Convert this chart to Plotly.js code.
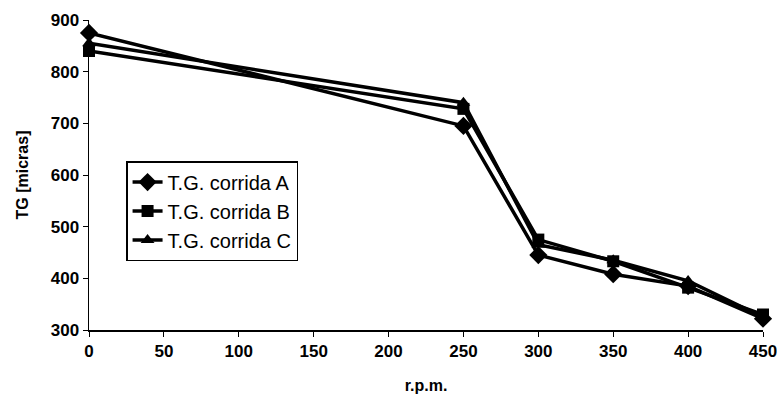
<!DOCTYPE html>
<html><head><meta charset="utf-8">
<script src="https://cdn.plot.ly/plotly-3.0.1.min.js"></script>
<style>html,body{margin:0;padding:0;background:#fff}</style>
</head><body><div id="chart" style="width:777px;height:418px"></div>
<script>
const rpm = [0, 250, 300, 350, 400, 450];
const corridaA = [875, 695, 445, 408, 385, 322];
const corridaB = [840, 728, 475, 433, 382, 330];
const corridaC = [855, 740, 465, 435, 395, 325];
const seriesNames = ['T.G. corrida A', 'T.G. corrida B', 'T.G. corrida C'];
const xTicks = [0, 50, 100, 150, 200, 250, 300, 350, 400, 450];
const yTicks = [300, 400, 500, 600, 700, 800, 900];

const symbols = ['diamond', 'square', 'triangle-up'];
const data = [corridaA, corridaB, corridaC].map((ys, i) => ({
  x: rpm, y: ys, name: seriesNames[i], type: 'scatter', mode: 'lines+markers',
  line: {color: '#000', width: 3.5},
  marker: {symbol: symbols[i], size: i === 0 ? 14 : 12, color: '#000'},
  cliponaxis: false
}));

const fam = 'Liberation Sans, Arial, sans-serif';
const layout = {
  width: 777, height: 418,
  margin: {l: 89, r: 14, t: 20, b: 88},
  paper_bgcolor: '#fff', plot_bgcolor: '#fff',
  font: {family: fam, size: 15, color: '#000'},
  showlegend: true,
  legend: {x: 0.055, y: 0.545, xanchor: 'left', yanchor: 'top',
    bordercolor: '#000', borderwidth: 1.5, bgcolor: '#fff',
    font: {family: fam, size: 20, color: '#000'}},
  xaxis: {range: [0, 450], tickvals: xTicks, ticktext: xTicks.map(String),
    showgrid: false, zeroline: false, showline: true, linecolor: '#000', linewidth: 1.5,
    ticks: 'outside', ticklen: 5, tickcolor: '#000', ticklabeloverflow: 'allow', automargin: false,
    tickfont: {family: fam, size: 17, color: '#000', weight: 'bold'},
    title: {text: 'r.p.m.', font: {family: fam, size: 16, weight: 'bold', color: '#000'}, standoff: 20}},
  yaxis: {range: [300, 900], tickvals: yTicks, ticktext: yTicks.map(String),
    showgrid: false, zeroline: false, showline: true, linecolor: '#000', linewidth: 1.5,
    ticks: 'outside', ticklen: 5, tickcolor: '#000', automargin: false,
    tickfont: {family: fam, size: 17, color: '#000', weight: 'bold'},
    title: {text: 'TG [micras]', font: {family: fam, size: 16, weight: 'bold', color: '#000'}, standoff: 18}}
};
Plotly.newPlot('chart', data, layout, {displayModeBar: false, staticPlot: true});
</script></body></html>
